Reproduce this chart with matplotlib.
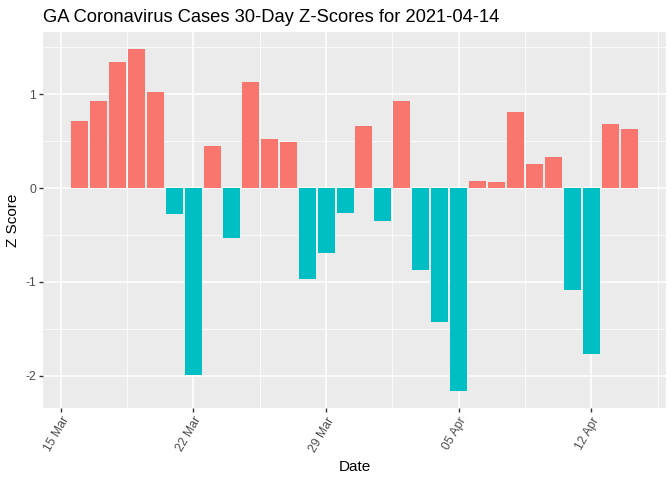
import matplotlib
matplotlib.use('Agg')
import matplotlib.pyplot as plt
import matplotlib.dates as mdates
import numpy as np
import pandas as pd

plt.rcParams['font.family'] = ['Liberation Sans', 'DejaVu Sans']

dates = pd.date_range('2021-03-16', '2021-04-14', freq='D')
z_scores = [0.71, 0.93, 1.34, 1.48, 1.02, -0.28, -1.99, 0.45, -0.53, 1.13,
            0.52, 0.49, -0.97, -0.69, -0.27, 0.66, -0.35, 0.93, -0.87, -1.43,
            -2.16, 0.08, 0.06, 0.81, 0.26, 0.33, -1.09, -1.77, 0.68, 0.63]
major_ticks = pd.to_datetime(['2021-03-15', '2021-03-22', '2021-03-29', '2021-04-05', '2021-04-12'])
tick_labels = ['15 Mar', '22 Mar', '29 Mar', '05 Apr', '12 Apr']

pos_col = '#F8766D'
neg_col = '#00BFC4'

fig = plt.figure(figsize=(6.72, 4.8), dpi=100)
ax = fig.add_axes([43 / 672, 1 - 408 / 480, (666 - 43) / 672, (408 - 32) / 480])
ax.set_facecolor('#EBEBEB')

x = mdates.date2num(dates)
z = np.array(z_scores)
colors = [pos_col if v > 0 else neg_col for v in z]
ax.bar(x, z, width=0.9, color=colors, zorder=3)

# limits with ggplot-like 5% expansion
xmin, xmax = x.min() - 0.45, x.max() + 0.45
dx = (xmax - xmin) * 0.05
ax.set_xlim(xmin - dx, xmax + dx)
ymin, ymax = min(z.min(), 0), max(z.max(), 0)
dy = (ymax - ymin) * 0.05
ax.set_ylim(ymin - dy, ymax + dy)

mt = mdates.date2num(major_ticks)
ax.set_xticks(mt)
ax.set_xticklabels(tick_labels, rotation=60, ha='right', rotation_mode='anchor')
minor_x = list(mt[:-1] + 3.5) + [mt[-1] + 3.5]
ax.set_xticks(minor_x, minor=True)
ax.set_yticks([-2, -1, 0, 1])
ax.set_yticklabels(['-2', '-1', '0', '1'])
ax.set_yticks([-1.5, -0.5, 0.5, 1.5], minor=True)

ax.grid(which='major', color='white', linewidth=1.1, zorder=0)
ax.grid(which='minor', color='white', linewidth=0.55, zorder=0)
ax.set_axisbelow(True)
for s in ax.spines.values():
    s.set_visible(False)
ax.tick_params(which='major', length=3, color='#333333', width=1.0,
               labelcolor='#4D4D4D', labelsize=8.8, pad=2)
ax.tick_params(which='minor', length=0)

ax.set_xlabel('Date', fontsize=11, labelpad=4)
ax.set_ylabel('Z Score', fontsize=11, labelpad=4)
fig.text(43 / 672, 1 - 17 / 480, 'GA Coronavirus Cases 30-Day Z-Scores for 2021-04-14',
         fontsize=13.2, va='center', ha='left')

fig.savefig('out.png', dpi=100)
